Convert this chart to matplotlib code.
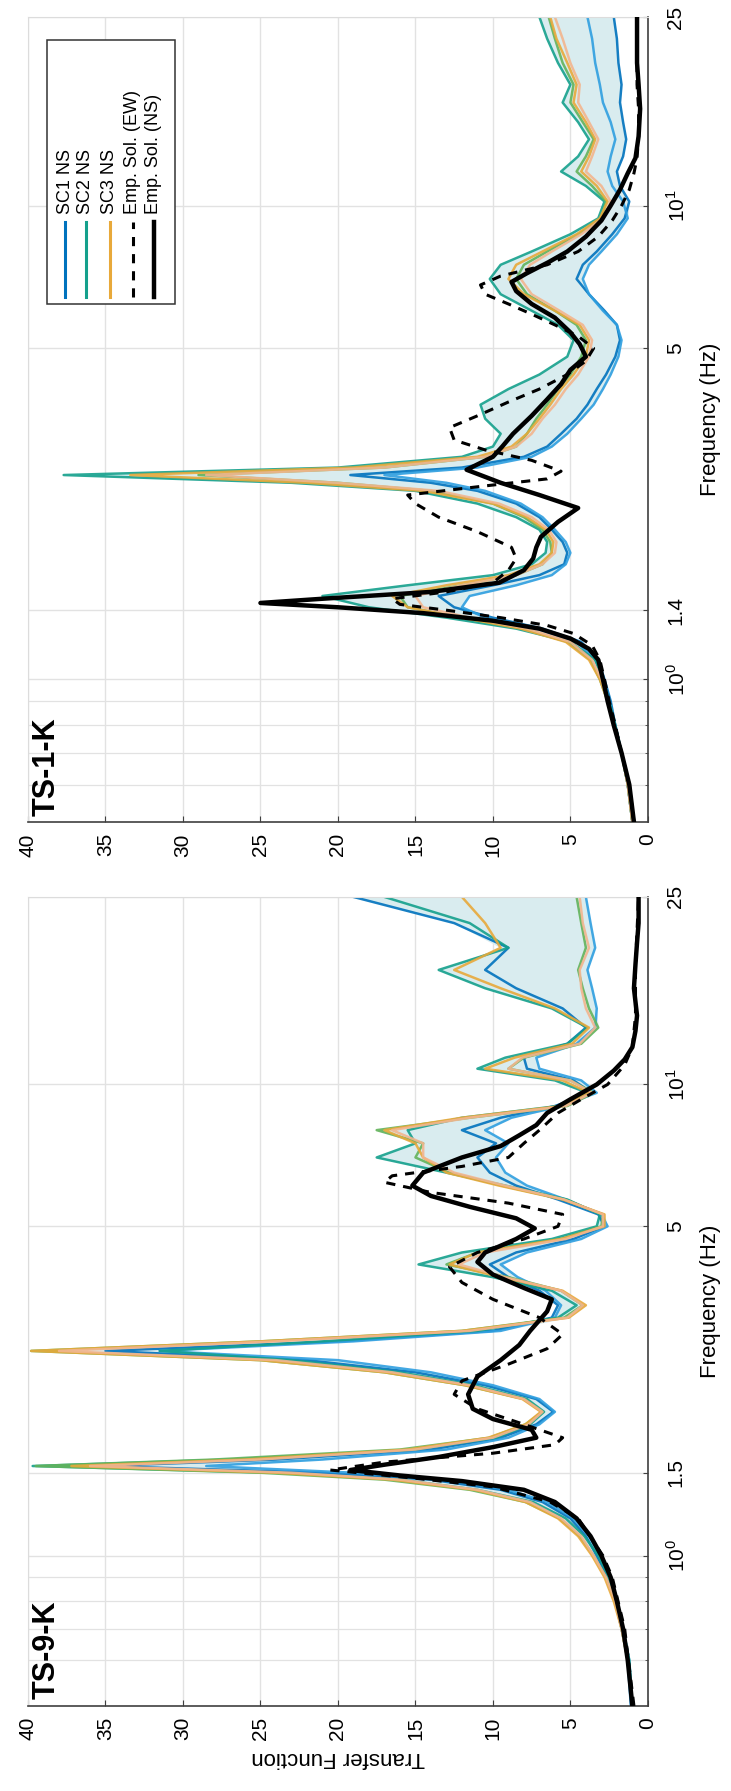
import numpy as np
import matplotlib
matplotlib.use('Agg')
import matplotlib.pyplot as plt
from matplotlib.ticker import FixedLocator, NullFormatter
from matplotlib.patches import Rectangle

plt.rcParams['font.family'] = ['Liberation Sans', 'DejaVu Sans']
plt.rcParams['mathtext.fontset'] = 'custom'
plt.rcParams['mathtext.rm'] = 'Liberation Sans'

# ---------------- TS-1-K (upper panel) ----------------
freq_1 = [0.5, 0.6, 0.7, 0.8, 0.9, 1.0, 1.1, 1.2, 1.28, 1.35, 1.42, 1.5, 1.58, 1.66, 1.75, 1.85, 1.95, 2.07,
          2.2, 2.35, 2.5, 2.6, 2.7, 2.8, 2.95, 3.1, 3.3, 3.55, 3.8, 4.1, 4.4, 4.8, 5.2, 5.6, 6.0, 6.5, 7.0,
          7.5, 8.0, 8.7, 9.4, 10.2, 11.0, 11.8, 12.7, 13.8, 15.0, 16.5, 18.0, 20.0, 22.5, 25.0]
sc1_1 = [1.0, 1.3, 1.7, 2.1, 2.4, 2.8, 3.2, 4.3, 6.8, 10, 12.5, 13.5, 10, 7, 5.4, 5.2, 5.5, 6.2, 7, 8.5,
         11, 14, 19.2, 12, 8, 6.5, 5.6, 4.6, 3.9, 3.3, 2.7, 2.1, 1.8, 2.0, 2.8, 3.8, 4.6, 4.2, 3.3, 2.3,
         1.5, 1.2, 1.8, 2.0, 1.6, 1.4, 1.6, 1.8, 1.7, 1.9, 2.0, 2.2]
sc1b_1 = [1.0, 1.3, 1.7, 2.1, 2.5, 2.9, 3.4, 4.6, 7.2, 10.5, 12, 11.5, 8.5, 6.2, 5.3, 5.0, 5.3, 6.0, 6.8, 8.2,
          10.5, 13, 17, 11, 7.5, 6.2, 5.2, 4.3, 3.5, 2.9, 2.4, 1.9, 1.7, 2.0, 2.9, 3.8, 4.2, 3.8, 3.0, 2.0,
          1.3, 1.6, 2.3, 2.6, 2.4, 2.1, 2.4, 2.9, 3.1, 3.4, 3.6, 3.9]
sc2_1 = [1.0, 1.3, 1.7, 2.1, 2.5, 2.9, 3.4, 5.0, 8.5, 13, 18, 21, 15.5, 10, 7.5, 6.6, 6.5, 7, 8.5, 11,
         15, 23, 37.7, 20, 12, 10, 9.5, 10.5, 10.8, 9, 7, 5.2, 4.8, 5.8, 7.5, 9.5, 10.2, 9.5, 7.5, 5,
         3.2, 2.8, 4, 5.6, 4.5, 3.8, 4.5, 5.5, 5, 5.8, 6.5, 7.0]
sc2b_1 = [1.0, 1.3, 1.7, 2.2, 2.6, 3.1, 3.7, 5.2, 8, 12, 15.5, 16, 12, 8.5, 6.8, 6.2, 6.3, 6.8, 8, 10,
          14, 20, 29, 17, 10.5, 8.5, 7.8, 7.2, 6.5, 5.8, 5, 4.3, 4, 4.6, 6, 7.8, 8.5, 8, 6.5, 4.5,
          3, 2.7, 3.6, 4.6, 4, 3.5, 4.2, 5, 4.8, 5.5, 6, 6.4]
sc3_1 = [1.0, 1.3, 1.7, 2.2, 2.6, 3.1, 3.8, 5.3, 8.2, 12, 15.5, 16.5, 13, 9, 7, 6.2, 6.1, 6.6, 7.8, 10,
         14.5, 22, 33.4, 19, 11, 8.8, 7.8, 7, 6.3, 5.6, 4.8, 4.0, 3.8, 4.4, 6, 8, 9, 8.5, 6.8, 4.6,
         3.1, 2.6, 3.3, 4.3, 3.8, 3.4, 4, 4.8, 4.6, 5.2, 5.9, 6.3]
sc3b_1 = [1.0, 1.3, 1.7, 2.2, 2.6, 3.0, 3.6, 5.0, 7.8, 11.5, 14.5, 15, 12, 8.5, 6.8, 6.0, 5.9, 6.4, 7.5, 9.6,
          13.5, 20, 28.5, 17, 10.5, 8.5, 7.5, 6.8, 6.0, 5.3, 4.5, 3.8, 3.6, 4.2, 5.7, 7.5, 8.2, 7.6, 6.2, 4.3,
          2.9, 2.4, 3.0, 4.0, 3.6, 3.2, 3.8, 4.5, 4.4, 5.0, 5.5, 6.0]
ns_f_1 = [0.5, 0.6, 0.7, 0.8, 0.9, 1.0, 1.1, 1.16, 1.22, 1.28, 1.33, 1.38, 1.42, 1.45, 1.48, 1.53, 1.6, 1.7,
          1.8, 1.9, 2.0, 2.15, 2.3, 2.45, 2.6, 2.77, 2.95, 3.1, 3.3, 3.6, 3.9, 4.2, 4.5, 4.8, 5.1, 5.4, 5.8,
          6.2, 6.6, 6.9, 7.2, 7.6, 8.0, 8.6, 9.3, 10.0, 10.8, 11.7, 12.6, 14, 16, 18, 20, 22.5, 25]
ns_v_1 = [0.9, 1.2, 1.7, 2.2, 2.6, 2.9, 3.2, 3.8, 5.0, 7.0, 10, 14.5, 20, 25, 21, 14, 9.6, 8, 7.4, 7.2,
          6.9, 5.8, 4.5, 7, 9.5, 11.7, 10, 9.4, 8.7, 7.5, 6.5, 5.6, 5.0, 4.0, 4.4, 5.0, 6.0, 7.5, 8.5, 8.8,
          7.8, 6.4, 5.2, 4, 3, 2.4, 1.8, 1.3, 0.8, 0.6, 0.5, 0.6, 0.7, 0.7, 0.7]
ew_f_1 = [0.5, 0.6, 0.7, 0.8, 0.9, 1.0, 1.1, 1.18, 1.25, 1.3, 1.35, 1.4, 1.44, 1.48, 1.53, 1.6, 1.7, 1.8,
          1.9, 2.05, 2.2, 2.35, 2.45, 2.55, 2.65, 2.75, 2.9, 3.05, 3.2, 3.4, 3.6, 3.85, 4.1, 4.4, 4.7, 5.0,
          5.3, 5.6, 5.9, 6.2, 6.5, 6.8, 7.1, 7.5, 8.0, 8.6, 9.3, 10.0, 10.8, 11.7, 12.6, 14, 16, 18, 20, 22.5, 25]
ew_v_1 = [0.9, 1.2, 1.7, 2.1, 2.5, 2.8, 3.1, 3.6, 4.8, 6.5, 9.5, 13, 16, 16.5, 13, 10, 9, 8.5, 8.8, 11,
          13.5, 15, 15.5, 11, 6.5, 5.6, 7.5, 10.5, 12.5, 12.8, 11, 9, 7, 5.2, 4, 3.5, 4.5, 6, 7.5, 9,
          10.5, 10.8, 9.5, 6.5, 4.5, 3.2, 2.3, 1.7, 1.2, 0.9, 0.7, 0.6, 0.6, 0.7, 0.7, 0.7, 0.7]

# ---------------- TS-9-K (lower panel) ----------------
freq_9 = [0.48, 0.6, 0.7, 0.8, 0.9, 1.0, 1.1, 1.2, 1.3, 1.38, 1.45, 1.5, 1.55, 1.6, 1.68, 1.78, 1.9, 2.02,
          2.15, 2.3, 2.45, 2.6, 2.72, 2.85, 3.0, 3.2, 3.4, 3.65, 3.9, 4.15, 4.4, 4.7, 5.0, 5.3, 5.7, 6.1,
          6.5, 7.0, 7.5, 8.0, 8.5, 9.0, 9.6, 10.2, 10.8, 11.4, 12.2, 13.2, 14.5, 16.0, 17.5, 19.5, 22.0, 25.0]
sc1_9 = [1.1, 1.3, 1.7, 2.1, 2.6, 3.3, 4.0, 5.0, 6.8, 9.5, 14, 21, 35.2, 24, 14, 9.5, 7.2, 6.1, 7.2, 10.5,
         15, 22, 35, 20, 10, 6.2, 5.8, 7, 9, 10.2, 8.5, 4.8, 2.8, 3.2, 5.8, 8.5, 10.2, 11, 9.8, 12,
         9.5, 6, 3.6, 4.8, 7.8, 8, 5.2, 4, 5.5, 8.5, 10.5, 9, 12.5, 19]
sc1b_9 = [1.0, 1.2, 1.6, 2.0, 2.5, 3.1, 3.8, 4.8, 6.5, 9, 13, 19, 28.5, 21, 13, 9, 7, 6.0, 7, 10,
          14, 20, 31.5, 19, 9.5, 6, 5.6, 6.6, 8.4, 9.5, 7.8, 4.3, 2.6, 3, 5.3, 7.8, 9.2, 9.8, 9, 10.5,
          8.8, 5.6, 3.3, 4.3, 7, 7.2, 4.6, 3.4, 3.3, 3.6, 3.9, 3.4, 3.7, 4.0]
sc2_9 = [1.0, 1.2, 1.6, 2.0, 2.5, 3.2, 4.1, 5.3, 7.4, 11, 16, 24, 39.7, 27, 15, 9.8, 7.6, 6.7, 7.8, 11.2,
         16, 23, 31.5, 21, 11, 5.8, 4.6, 6.2, 10, 14.8, 12, 6.2, 3.3, 3.1, 5.2, 9.2, 13, 17.5, 15, 15.5,
         12, 5.8, 3.9, 6, 11, 9.2, 5.2, 3.9, 6.2, 10.5, 13.5, 9, 11.5, 17]
sc2b_9 = [1.0, 1.3, 1.7, 2.1, 2.7, 3.5, 4.4, 5.7, 7.9, 11.5, 17, 25, 39.5, 28, 16, 10.2, 7.9, 6.8, 8.0, 11.8,
          17, 25, 39.8, 25, 12, 5.4, 4.2, 5.6, 9, 13, 11, 5.6, 3.0, 2.9, 5.4, 9.4, 12.8, 15, 14.5, 17.5,
          11.5, 5.2, 3.5, 5, 9, 8, 4.3, 3.2, 3.8, 4.2, 4.5, 4, 4.3, 4.6]
sc3_9 = [1.0, 1.3, 1.7, 2.2, 2.8, 3.6, 4.5, 5.8, 7.9, 11.2, 16.5, 24, 37.2, 26, 15.5, 10.3, 7.9, 6.9, 8.1, 11.8,
         17, 25, 39.8, 25, 12, 5.1, 4.0, 5.5, 9.5, 12.8, 11, 5.6, 2.8, 2.8, 5.5, 9.6, 13, 14.5, 15, 17,
         12, 5.6, 3.8, 5.5, 10.5, 8.6, 4.9, 3.8, 6, 9.5, 12.5, 9.5, 10.5, 12]
sc3b_9 = [1.0, 1.3, 1.7, 2.1, 2.7, 3.5, 4.3, 5.6, 7.6, 11, 16, 23, 36, 25, 15, 10, 7.7, 6.8, 8, 11.5,
          16.5, 24, 38, 24, 11.5, 5.2, 4.2, 5.6, 9.2, 12.2, 10.5, 5.3, 2.9, 2.9, 5.4, 9.2, 12.5, 14.5, 14.5, 16.5,
          11.5, 5.3, 3.6, 5, 9, 8.1, 4.4, 3.4, 4, 4.3, 4.4, 3.8, 4.2, 4.4]
ns_f_9 = [0.48, 0.6, 0.7, 0.8, 0.9, 1.0, 1.1, 1.2, 1.3, 1.38, 1.44, 1.48, 1.52, 1.56, 1.62, 1.7, 1.78, 1.85,
          1.95, 2.05, 2.2, 2.4, 2.6, 2.8, 3.0, 3.3, 3.5, 3.7, 3.95, 4.2, 4.4, 4.7, 4.95, 5.2, 5.5, 5.8, 6.1,
          6.5, 7.0, 7.4, 7.8, 8.2, 8.7, 9.3, 10, 10.7, 11.3, 12, 13, 14, 16, 18, 20, 22, 25]
ns_v_9 = [1.0, 1.3, 1.6, 2.0, 2.4, 3.0, 3.7, 4.6, 6.0, 8.0, 12, 16, 19.2, 17, 13.5, 10, 7.2, 7.5, 10, 11.3,
          11.6, 11, 9.5, 8.3, 7.6, 6.5, 6.2, 8, 10, 11, 10.5, 8.5, 7.3, 8.5, 11.5, 14, 15.2, 14.5, 12, 9.5,
          8.3, 7.2, 6.5, 5, 3.3, 2.2, 1.5, 1.0, 0.8, 0.7, 0.9, 0.8, 0.7, 0.6, 0.6]
ew_f_9 = [0.48, 0.7, 0.9, 1.0, 1.2, 1.3, 1.4, 1.46, 1.52, 1.58, 1.65, 1.72, 1.78, 1.9, 2.05, 2.2, 2.35, 2.55,
          2.75, 2.95, 3.2, 3.5, 3.8, 4.1, 4.4, 4.7, 5.0, 5.3, 5.6, 5.9, 6.2, 6.4, 6.7, 7.0, 7.5, 8.0, 8.7,
          9.3, 10, 11, 12, 14, 18, 25]
ew_v_9 = [0.9, 1.5, 2.3, 2.9, 4.5, 6.3, 10, 15, 20.5, 17, 10, 6, 5.5, 8, 11, 12.5, 12, 9, 6.5, 5.5,
          7, 10, 12, 12.8, 11, 8, 5.8, 5.5, 9, 14, 17, 16.5, 12, 9, 8, 7, 5.8, 4.3, 2.6, 1.5,
          1, 0.8, 0.8, 0.6]

sc_colors = ['#0072BD', '#2f9fe0', '#14a08c', '#62b35a', '#E8A93A', '#F3B58E']
legend_labels = ['SC1 NS', 'SC2 NS', 'SC3 NS', 'Emp. Sol. (EW)', 'Emp. Sol. (NS)']


def draw_panel(ax, freq, series, ns_f, ns_v, ew_f, ew_v, ylo, yticks, yticklabels, title):
    arr = np.array(series)
    ax.fill_betweenx(freq, arr.min(axis=0), arr.max(axis=0), color='#d9ecef', lw=0, zorder=1)
    for vals, c in zip(series, sc_colors):
        ax.plot(vals, freq, color=c, lw=1.8, alpha=0.9, zorder=2)
    ax.plot(ew_v, ew_f, color='black', lw=2.2, ls=(0, (3, 2.6)), zorder=3)
    ax.plot(ns_v, ns_f, color='black', lw=3.2, zorder=4)

    ax.set_xlim(40, 0)
    ax.set_yscale('log')
    ax.set_ylim(ylo, 25)
    ax.set_xticks(np.arange(0, 41, 5))
    ax.set_yticks(yticks)
    ax.set_yticklabels(yticklabels)
    ax.yaxis.set_minor_locator(FixedLocator([0.6, 0.7, 0.8, 0.9]))
    ax.yaxis.set_minor_formatter(NullFormatter())
    ax.yaxis.tick_right()
    ax.yaxis.set_label_position('right')
    ax.set_ylabel('Frequency (Hz)', fontsize=16, labelpad=8)

    ax.tick_params(axis='x', direction='in', length=4, labelrotation=90, labelsize=15, pad=8,
                   color='#404040')
    ax.tick_params(axis='y', which='both', direction='in', labelrotation=90, labelsize=15, pad=13,
                   color='#404040', right=True, left=False)
    ax.tick_params(axis='y', which='minor', length=2)
    for lab in ax.get_yticklabels():
        lab.set_verticalalignment('center')

    ax.grid(True, which='major', color='#e2e2e2', lw=1)
    ax.grid(True, which='minor', axis='y', color='#e2e2e2', lw=0.9)
    ax.set_axisbelow(True)
    for s in ['bottom', 'right']:
        ax.spines[s].set_color('#404040')
        ax.spines[s].set_linewidth(1.2)
    for s in ['top', 'left']:
        ax.spines[s].set_color('#dcdcdc')

    ax.text(0.006, 0.008, title, transform=ax.transAxes, rotation=90, ha='left', va='bottom',
            fontsize=22, fontweight='bold', zorder=6)


fig = plt.figure(figsize=(7.31, 17.91), dpi=100)
ax1 = fig.add_axes([0.0383, 0.541, 0.848, 0.4495])
ax9 = fig.add_axes([0.0383, 0.0475, 0.848, 0.4517])

draw_panel(ax1, freq_1, [sc1_1, sc1b_1, sc2_1, sc2b_1, sc3_1, sc3b_1], ns_f_1, ns_v_1, ew_f_1, ew_v_1,
           0.5, [1, 1.4, 5, 10, 25], ['$10^{0}$', '1.4', '5', '$10^{1}$', '25'], 'TS-1-K')
draw_panel(ax9, freq_9, [sc1_9, sc1b_9, sc2_9, sc2b_9, sc3_9, sc3b_9], ns_f_9, ns_v_9, ew_f_9, ew_v_9,
           0.48, [1, 1.5, 5, 10, 25], ['$10^{0}$', '1.5', '5', '$10^{1}$', '25'], 'TS-9-K')
ax9.set_xlabel('Transfer Function', fontsize=16, rotation=180, labelpad=5)

# legend drawn by hand (entries run upward like the rest of the figure)
ax1.add_patch(Rectangle((0.0306, 0.6435), 0.2064, 0.328, transform=ax1.transAxes,
                        facecolor='white', edgecolor='#333333', lw=1.1, zorder=7))
leg_x = [0.0597, 0.0935, 0.132, 0.169, 0.203]
leg_styles = [(sc_colors[0], '-', 2.2), (sc_colors[2], '-', 2.2), (sc_colors[4], '-', 2.2),
              ('black', (0, (3, 2.6)), 2.2), ('black', '-', 3.2)]
for xl, lab, (c, ls, lw) in zip(leg_x, legend_labels, leg_styles):
    ax1.plot([xl, xl], [0.652, 0.745], transform=ax1.transAxes, color=c, ls=ls, lw=lw, zorder=8)
    ax1.text(xl, 0.755, lab, transform=ax1.transAxes, rotation=90, ha='center', va='bottom',
             fontsize=13, zorder=8)

fig.savefig('out.png', dpi=100)
